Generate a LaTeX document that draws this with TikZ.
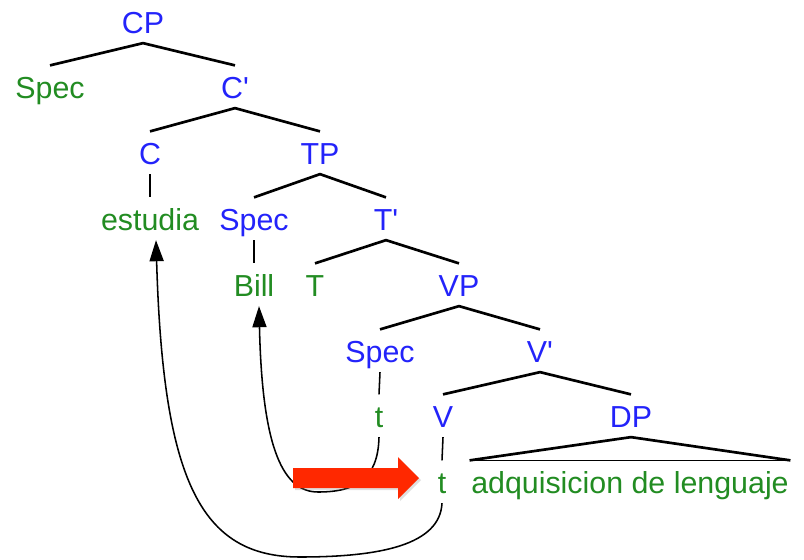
\documentclass[tikz,border=0pt]{standalone}
\usepackage{fontspec}
\setmainfont{Liberation Sans}
\usetikzlibrary{calc,arrows.meta,shadows}

\definecolor{catblue}{RGB}{35,35,250}
\definecolor{wordgreen}{RGB}{34,140,34}
\definecolor{movered}{RGB}{255,40,0}

\begin{document}
\begin{tikzpicture}[x=0.025cm, y=-0.025cm,
        lbl/.style={
          font=\fontsize{21.6}{25}\selectfont, anchor=base,
          text height=16pt, text depth=0pt, inner xsep=1pt, inner ysep=7pt
        },
        cat/.style={lbl, text=catblue},
        word/.style={lbl, text=wordgreen},
        branch/.style={line width=1.9pt, line join=round},
        stem/.style={line width=1.1pt},
        move/.style={line width=1.1pt, -{Triangle[length=15pt,width=10pt]}}
      ]
      \useasboundingbox (0,0) rectangle (804,560);

      % categories and words, one row per level
      \node [cat]  (cp)      at (143,33)  {CP};
      \node [word] (specC)   at (50,98)   {Spec};
      \node [cat]  (cbar)    at (235,98)  {C\textquotesingle};
      \node [cat]  (c)       at (150,164) {C};
      \node [cat]  (tp)      at (320,164) {TP};
      \node [word] (estudia) at (150,230) {estudia};
      \node [cat]  (specT)   at (254,230) {Spec};
      \node [cat]  (tbar)    at (386,230) {T\textquotesingle};
      \node [word] (bill)    at (254,296) {Bill};
      \node [word] (t)       at (315,296) {T};
      \node [cat]  (vp)      at (459,296) {VP};
      \node [cat]  (specV)   at (380,362) {Spec};
      \node [cat]  (vbar)    at (540,362) {V\textquotesingle};
      \node [word] (traceS)  at (379,427) {t};
      \node [cat]  (v)       at (443,427) {V};
      \node [cat]  (dp)      at (631,427) {DP};
      \node [word] (traceV)  at (442,493) {t};
      \node [word] (obj)     at (630,493) {adquisicion de lenguaje};

      % branches
      \draw [branch] (specC.north) -- (cp.south) -- (cbar.north);
      \draw [branch] (c.north) -- (cbar.south) -- (tp.north);
      \draw [branch] (specT.north) -- (tp.south) -- (tbar.north);
      \draw [branch] (t.north) -- (tbar.south) -- (vp.north);
      \draw [branch] (specV.north) -- (vp.south) -- (vbar.north);
      \draw [branch] (v.north) -- (vbar.south) -- (dp.north);
      \draw [branch] (obj.north west) -- (dp.south) -- (obj.north east);
      \draw [stem] (obj.north west) -- (obj.north east);
      \draw [stem] (c.south) -- (estudia.north);
      \draw [stem] (specT.south) -- (bill.north);
      \draw [stem] (specV.south) -- (traceS.north);
      \draw [stem] (v.south) -- (traceV.north);

      % movement
      \draw [move] (traceV.south) .. controls (440,545) and (380,557) .. (300,557)
        .. controls (200,557) and (163,480) .. ($(estudia.south)+(6,0)$);
      \draw [move] (traceS.south) .. controls (378,480) and (355,492) .. (318,492)
        .. controls (280,492) and (262,440) .. ($(bill.south)+(5,0)$);

      \fill [movered, drop shadow={opacity=0.25, shadow xshift=1.5pt, shadow yshift=-1.5pt}]
        (293,468) -- (398,468) -- (398,457) -- (419,478) -- (398,499) -- (398,488) -- (293,488) -- cycle;
    \end{tikzpicture}
\end{document}
